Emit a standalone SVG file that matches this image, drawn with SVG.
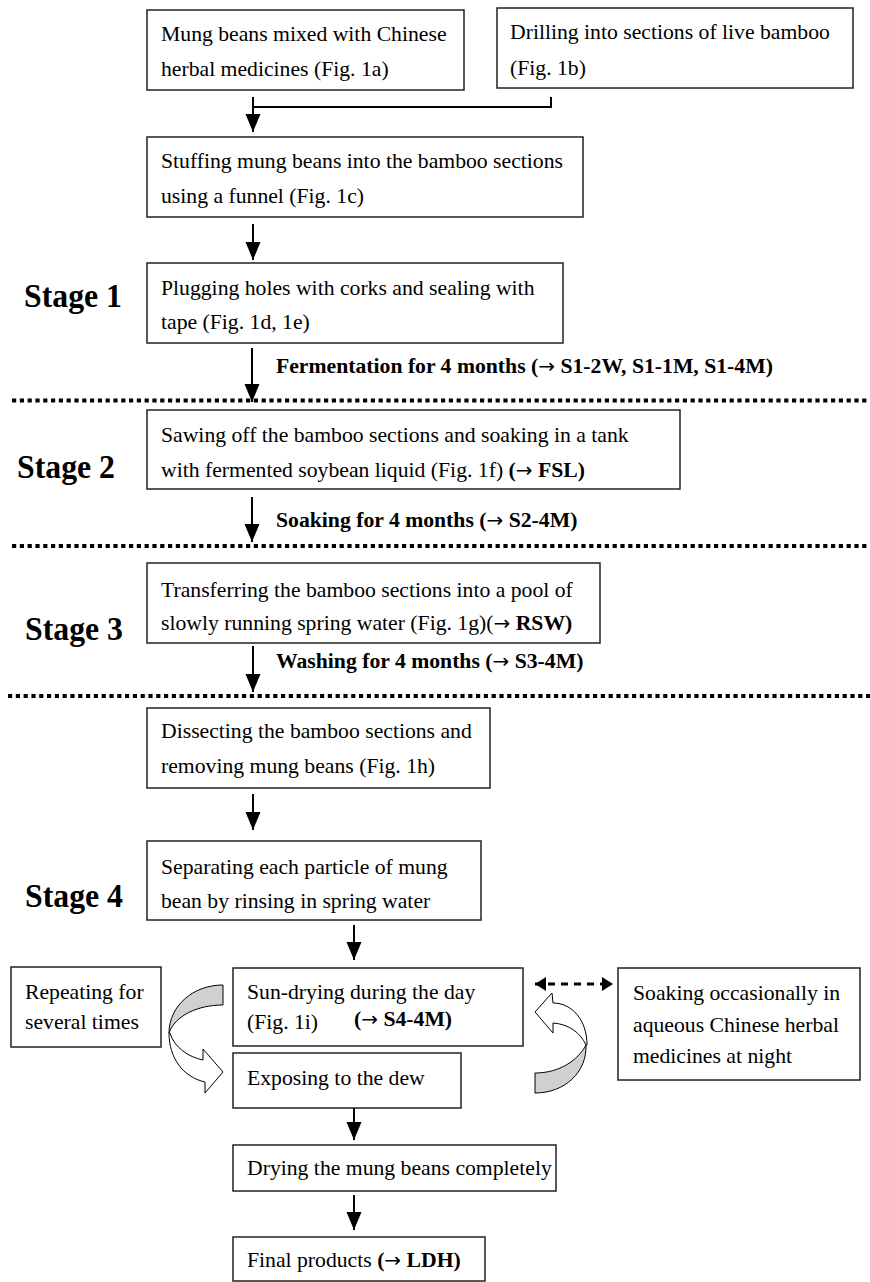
<svg xmlns="http://www.w3.org/2000/svg" width="870" height="1282" viewBox="0 0 870 1282">
<style>
text{font-family:"Liberation Serif","Times New Roman",serif;font-size:21.7px;fill:#000}
.b{font-weight:bold}
.ar{font-family:"DejaVu Sans",sans-serif;font-size:20px;font-weight:normal}
.stage{font-weight:bold;font-size:33px}
.box{fill:#fff;stroke:#222;stroke-width:1.5}
.arr{stroke:#000;stroke-width:2;fill:none;marker-end:url(#ah)}
.ln{stroke:#000;stroke-width:2;fill:none}
.dot{stroke:#000;stroke-width:4;stroke-dasharray:4.2 3.6;fill:none}
.curve{stroke:#000;stroke-width:1;fill:#fff}
.shade{stroke:#000;stroke-width:1;fill:#d0d0d0}
</style>
<defs>
<marker id="ah" markerUnits="userSpaceOnUse" viewBox="0 -8 18 16" refX="18" refY="0" markerWidth="18" markerHeight="16" orient="auto">
<path d="M0,-7.5 L18,0 L0,7.5 Z" fill="#000"/>
</marker>
<marker id="ah2" markerUnits="userSpaceOnUse" viewBox="0 -7 11 14" refX="11" refY="0" markerWidth="11" markerHeight="14" orient="auto-start-reverse">
<path d="M0,-7 L11,0 L0,7 Z" fill="#000"/>
</marker>
</defs>

<g id="n1"><rect class="box" x="147" y="10" width="317" height="80"/>
<text x="161" y="41">Mung beans mixed with Chinese</text>
<text x="161" y="76">herbal medicines (Fig. 1a)</text></g>

<g id="n2"><rect class="box" x="497" y="8" width="356" height="80"/>
<text x="510" y="39">Drilling into sections of live bamboo</text>
<text x="510" y="75">(Fig. 1b)</text></g>

<g id="n3"><rect class="box" x="147" y="137" width="436" height="80"/>
<text x="161" y="168">Stuffing mung beans into the bamboo sections</text>
<text x="161" y="203">using a funnel (Fig. 1c)</text></g>

<g id="n4"><rect class="box" x="147" y="263" width="416" height="80"/>
<text x="161" y="295">Plugging holes with corks and sealing with</text>
<text x="161" y="329">tape (Fig. 1d, 1e)</text></g>

<g id="n5"><rect class="box" x="147" y="410" width="533" height="79"/>
<text x="161" y="442">Sawing off the bamboo sections and soaking in a tank</text>
<text x="161" y="477">with fermented soybean liquid (Fig. 1f) <tspan class="b">(<tspan class="ar">→</tspan> FSL)</tspan></text></g>

<g id="n6"><rect class="box" x="147" y="563" width="453" height="80"/>
<text x="161" y="597">Transferring the bamboo sections into a pool of</text>
<text x="161" y="630">slowly running spring water (Fig. 1g)(<tspan class="ar">→</tspan> <tspan class="b">RSW)</tspan></text></g>

<g id="n7"><rect class="box" x="147" y="708" width="343" height="80"/>
<text x="161" y="738">Dissecting the bamboo sections and</text>
<text x="161" y="773">removing mung beans (Fig. 1h)</text></g>

<g id="n8"><rect class="box" x="147" y="841" width="334" height="79"/>
<text x="161" y="874">Separating each particle of mung</text>
<text x="161" y="908">bean by rinsing in spring water</text></g>

<g id="n9"><rect class="box" x="11" y="967" width="150" height="80"/>
<text x="25" y="999">Repeating for</text>
<text x="25" y="1029">several times</text></g>

<g id="n10"><rect class="box" x="233" y="968" width="290" height="78"/>
<text x="247" y="999">Sun-drying during the day</text>
<text x="247" y="1029">(Fig. 1i)</text>
<text class="b" x="354" y="1026">(<tspan class="ar">→</tspan> S4-4M)</text></g>

<g id="n11"><rect class="box" x="233" y="1053" width="228" height="55"/>
<text x="247" y="1085">Exposing to the dew</text></g>

<g id="n12"><rect class="box" x="618" y="968" width="242" height="112"/>
<text x="633" y="1000">Soaking occasionally in</text>
<text x="633" y="1032">aqueous Chinese herbal</text>
<text x="633" y="1063">medicines at night</text></g>

<g id="n13"><rect class="box" x="233" y="1145" width="323" height="46"/>
<text x="247" y="1175">Drying the mung beans completely</text></g>

<g id="n14"><rect class="box" x="233" y="1237" width="252" height="44"/>
<text x="247" y="1267">Final products <tspan class="b">(<tspan class="ar">→</tspan> LDH)</tspan></text></g>

<g id="stages">
<text class="stage" x="24" y="307" textLength="98" lengthAdjust="spacingAndGlyphs">Stage 1</text>
<text class="stage" x="17" y="478" textLength="98" lengthAdjust="spacingAndGlyphs">Stage 2</text>
<text class="stage" x="25" y="640" textLength="98" lengthAdjust="spacingAndGlyphs">Stage 3</text>
<text class="stage" x="25" y="907" textLength="98" lengthAdjust="spacingAndGlyphs">Stage 4</text>
</g>

<g id="dividers">
<path class="dot" d="M12,400.5 H870"/>
<path class="dot" d="M12,546 H870"/>
<path class="dot" d="M8,696 H870"/>
</g>

<g id="connectors">
<path class="ln" d="M253,97 V107 H551 V97"/>
<path class="arr" d="M253,107 V132"/>
<path class="arr" d="M253,224 V260"/>
<path class="arr" d="M252,348 V402"/>
<text class="b" x="276" y="373">Fermentation for 4 months (<tspan class="ar">→</tspan> S1-2W, S1-1M, S1-4M)</text>
<path class="arr" d="M252,497 V542"/>
<text class="b" x="276" y="527">Soaking for 4 months (<tspan class="ar">→</tspan> S2-4M)</text>
<path class="arr" d="M253,646 V692"/>
<text class="b" x="276" y="668">Washing for 4 months (<tspan class="ar">→</tspan> S3-4M)</text>
<path class="arr" d="M253,794 V830"/>
<path class="arr" d="M354,925 V960"/>
<path class="arr" d="M354,1108 V1140"/>
<path class="arr" d="M354,1195 V1230"/>
<path d="M535,984 H613" stroke="#000" stroke-width="3" stroke-dasharray="7 6" fill="none" marker-start="url(#ah2)" marker-end="url(#ah2)"/>
<path class="shade" d="M223,985 C193,985 169,1006 169,1033 C175,1016 197,1005 223,1005 Z"/>
<path class="curve" d="M169,1033 C169,1058 183,1077 205,1082 L205,1093 L223,1072 L203,1049 L203,1060 C188,1057 174,1047 170,1033 Z"/>
<path class="shade" d="M535,1073 C560,1073 578,1060 586,1045 C587,1072 565,1093 535,1093 Z"/>
<path class="curve" d="M587,1045 C587,1020 572,1003 553,1003 L552,993 L535,1012 L553,1033 L553,1023 C568,1024 580,1032 586,1045 Z"/>
</g>
</svg>
